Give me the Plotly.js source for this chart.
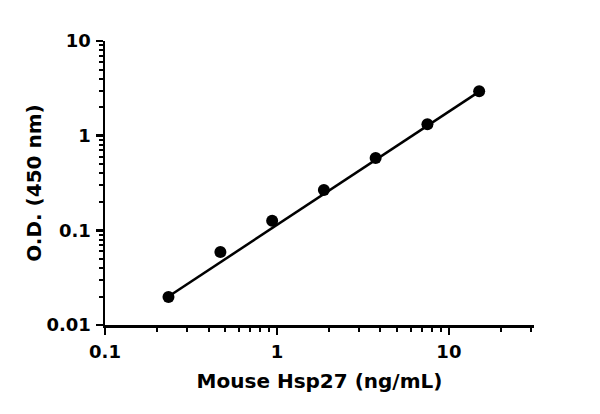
<!DOCTYPE html>
<html>
<head>
<meta charset="utf-8">
<script src="https://cdn.plot.ly/plotly-3.0.1.min.js"></script>
<style>
  html, body { margin: 0; padding: 0; background: #fff; }
  #chart { width: 600px; height: 414px; }
</style>
</head>
<body>
<div id="chart"></div>
<script>
  // Standard curve: mouse Hsp27 concentration vs optical density, both log.
  const concentration = [0.234, 0.469, 0.938, 1.875, 3.75, 7.5, 15];
  const opticalDensity = [0.0198, 0.059, 0.126, 0.267, 0.58, 1.32, 2.95];

  // Ends of the fitted line.
  const fitX = [0.234, 15];
  const fitY = [0.0200, 2.92];

  const xTicks = [0.1, 1, 10];
  const xTickText = ["0.1", "1", "10"];
  const yTicks = [0.01, 0.1, 1, 10];
  const yTickText = ["0.01", "0.1", "1", "10"];

  const FONT = "'DejaVu Sans', sans-serif";
  const INK = "#000000";
  const TICK_TEXT = { family: FONT, size: 18, color: INK, weight: 700 };
  const TITLE_TEXT = { family: FONT, size: 20, color: INK, weight: 700 };

  const fit = {
    x: fitX,
    y: fitY,
    type: "scatter",
    mode: "lines",
    line: { color: INK, width: 2.5 },
    hoverinfo: "skip",
  };

  const points = {
    x: concentration,
    y: opticalDensity,
    type: "scatter",
    mode: "markers",
    marker: { color: INK, size: 12 },
  };

  const axisBase = {
    type: "log",
    showgrid: false,
    zeroline: false,
    showline: true,
    linecolor: INK,
    linewidth: 2.5,
    ticks: "outside",
    ticklen: 7,
    tickwidth: 2.5,
    tickcolor: INK,
    tickmode: "array",
    tickfont: TICK_TEXT,
    minor: { ticks: "outside", ticklen: 4, tickwidth: 2, tickcolor: INK, dtick: "D1", showgrid: false },
  };

  const layout = {
    width: 600,
    height: 414,
    paper_bgcolor: "#ffffff",
    plot_bgcolor: "#ffffff",
    showlegend: false,
    margin: { l: 105, r: 66, t: 41, b: 89 },
    font: { family: FONT, color: INK },
    xaxis: Object.assign({}, axisBase, {
      range: [-1, 1.495],
      tickvals: xTicks,
      ticktext: xTickText,
      ticklabelstandoff: 2,
      title: { text: "<b>Mouse Hsp27 (ng/mL)</b>", font: TITLE_TEXT, standoff: 13 },
    }),
    yaxis: Object.assign({}, axisBase, {
      range: [-2, 1],
      tickvals: yTicks,
      ticktext: yTickText,
      ticklabelstandoff: 1,
      title: { text: "<b>O.D. (450 nm)</b>", font: TITLE_TEXT, standoff: 0 },
    }),
  };

  Plotly.newPlot("chart", [fit, points], layout, { displayModeBar: false, staticPlot: true });
</script>
</body>
</html>
